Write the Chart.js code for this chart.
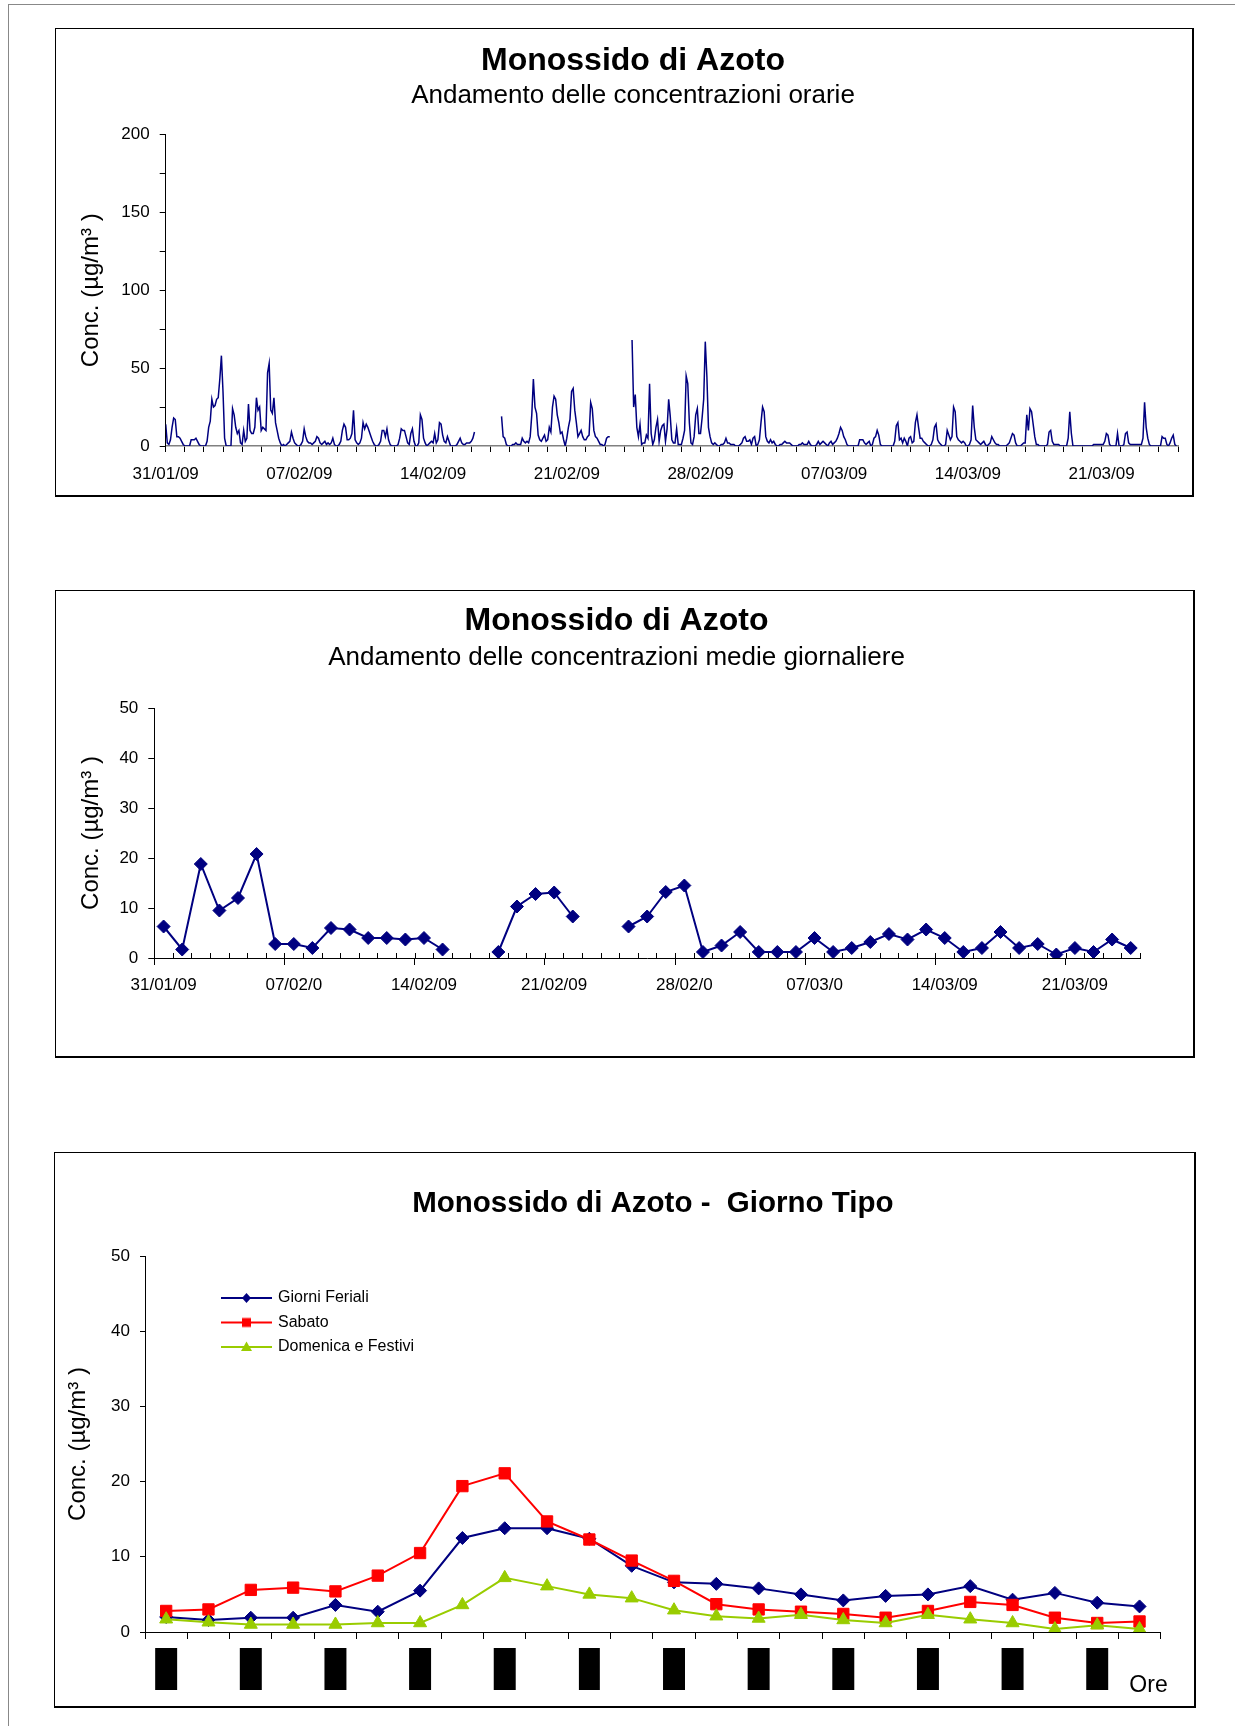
<!DOCTYPE html>
<html><head><meta charset="utf-8">
<script src="https://cdn.jsdelivr.net/npm/chart.js@4.4.1/dist/chart.umd.min.js"></script>
<style>
html,body{margin:0;padding:0;background:#fff;}
body{width:1235px;height:1726px;position:relative;overflow:hidden;}
.frameTop{position:absolute;left:8px;top:4px;width:1227px;height:0;border-top:1.5px solid #888;}
.frameLeft{position:absolute;left:8px;top:4px;width:0;height:1722px;border-left:1.5px solid #888;}
.box{position:absolute;border:1px solid #000;border-right-width:2px;border-bottom-width:2px;box-sizing:border-box;pointer-events:none;}
canvas{position:absolute;}
</style></head><body>
<div class="frameTop"></div><div class="frameLeft"></div>
<canvas id="c1" width="1139" height="469" style="left:55px;top:28px;"></canvas>
<canvas id="c2" width="1140" height="468" style="left:55px;top:590px;"></canvas>
<canvas id="c3" width="1142" height="556" style="left:54px;top:1152px;"></canvas>
<div class="box" style="left:55px;top:28px;width:1139px;height:469px;"></div>
<div class="box" style="left:55px;top:590px;width:1140px;height:468px;"></div>
<div class="box" style="left:54px;top:1152px;width:1142px;height:556px;"></div>
<script>
// ---------- DATA ----------
// Chart 1: hourly NO (one row per day, values every 2 hours, µg/m³), 31/01/09 .. 24/03/09
const hourStep = 2;
const noOrario = [
 [14,2,1,4,12,18,17,6,6,5,3,1],
 [0,0,0,0,4,4,4,5,3,1,0,0],
 [0,0,3,12,16,30,25,26,30,31,43,58],
 [35,5,0,0,0,0,24,20,12,8,10,2],
 [1,10,3,5,27,10,8,8,12,31,23,25],
 [10,12,11,10,47,53,23,21,31,15,10,5],
 [2,0,1,0,1,2,3,9,5,2,1,0],
 [0,1,3,11,6,3,2,2,1,2,3,6],
 [5,2,1,2,3,1,2,1,2,5,1,0],
 [0,1,3,10,14,12,4,4,5,8,23,4],
 [2,1,2,5,15,11,14,12,9,6,3,1],
 [0,0,1,3,10,10,6,11,4,1,0,0],
 [0,0,1,5,11,10,10,6,2,1,8,11],
 [3,0,0,2,20,17,5,2,0,1,2,3],
 [2,8,2,4,15,14,7,3,2,6,3,0],
 [0,0,0,1,3,5,2,1,1,2,2,2],
 [3,5,9,null,null,null,null,null,null,null,null,null],
 [null,null,null,null,null,null,null,19,6,5,1,0],
 [0,0,1,1,2,1,1,1,5,3,2,3],
 [2,6,20,43,25,21,7,4,3,5,7,3],
 [4,12,9,25,32,30,20,15,8,9,4,0],
 [5,12,17,35,37,23,15,6,8,10,6,4],
 [4,6,7,28,24,10,6,5,3,1,1,0],
 [1,5,6,6,null,null,null,null,null,null,null,null],
 [null,null,null,null,null,68,25,33,12,6,14,1],
 [2,2,7,5,40,8,1,4,12,17,3,10],
 [13,14,3,11,30,19,4,2,2,11,1,1],
 [1,5,10,45,40,15,2,1,6,20,24,8],
 [8,18,30,67,45,12,6,2,1,2,1,0],
 [0,1,1,2,5,2,2,1,1,1,0,0],
 [0,1,2,5,6,3,3,4,1,5,6,0],
 [1,4,15,25,22,6,3,2,4,2,3,1],
 [0,0,1,1,2,3,2,2,2,1,0,0],
 [0,0,1,1,2,1,1,1,3,1,0,0],
 [0,1,3,1,2,3,2,1,0,2,3,1],
 [2,3,5,8,12,10,6,4,1,0,0,0],
 [0,0,0,0,4,4,4,2,1,2,3,0],
 [1,5,6,10,7,1,0,0,0,0,0,0],
 [0,0,3,13,15,4,5,2,5,3,0,5],
 [6,2,3,15,20,12,5,5,3,2,1,0],
 [0,1,4,12,14,4,2,1,0,0,1,10],
 [7,4,6,25,22,6,4,3,2,3,2,0],
 [0,1,4,26,12,4,3,2,1,2,3,1],
 [0,1,2,6,4,2,1,1,0,0,0,0],
 [0,1,2,5,8,7,2,0,0,0,1,2],
 [2,20,10,24,22,14,6,1,1,0,0,0],
 [0,0,1,9,10,3,1,1,1,1,0,0],
 [0,0,0,5,22,8,0,0,0,0,0,0],
 [0,0,0,0,0,0,0,1,1,1,1,1],
 [1,1,3,8,7,1,0,0,0,0,8,0],
 [0,0,1,8,9,2,1,1,1,1,1,1],
 [1,1,5,28,12,5,1,0,0,0,0,0],
 [0,0,6,5,5,1,0,2,5,7,1,0]
];
const weekLabels1 = ['31/01/09','07/02/09','14/02/09','21/02/09','28/02/09','07/03/09','14/03/09','21/03/09'];

// Chart 2: daily means
const dailyDates = ['31/01/09','01/02/09','02/02/09','03/02/09','04/02/09','05/02/09','06/02/09','07/02/09','08/02/09','09/02/09',
 '10/02/09','11/02/09','12/02/09','13/02/09','14/02/09','15/02/09','16/02/09','17/02/09','18/02/09','19/02/09',
 '20/02/09','21/02/09','22/02/09','23/02/09','24/02/09','25/02/09','26/02/09','27/02/09','28/02/09','01/03/09',
 '02/03/09','03/03/09','04/03/09','05/03/09','06/03/09','07/03/09','08/03/09','09/03/09','10/03/09','11/03/09',
 '12/03/09','13/03/09','14/03/09','15/03/09','16/03/09','17/03/09','18/03/09','19/03/09','20/03/09','21/03/09',
 '22/03/09','23/03/09','24/03/09'];
const dailyNO = [6.3,1.7,18.8,9.5,12.0,20.8,2.8,2.8,2.0,6.0,5.7,4.0,4.0,3.7,4.0,1.7,null,null,1.2,10.3,
 12.8,13.1,8.3,null,null,6.3,8.3,13.2,14.5,1.2,2.5,5.2,1.2,1.2,1.2,4.0,1.2,2.0,3.2,4.8,
 3.7,5.7,4.0,1.2,2.0,5.2,2.0,2.8,0.7,2.0,1.2,3.7,2.0];
const weekLabels2 = ['31/01/09','07/02/0','14/02/09','21/02/09','28/02/0','07/03/0','14/03/09','21/03/09'];

// Chart 3: typical day
const oreLabels = ['01','02','03','04','05','06','07','08','09','10','11','12','13','14','15','16','17','18','19','20','21','22','23','24'];
const feriali  = [2.0,1.6,1.9,1.9,3.6,2.7,5.5,12.5,13.8,13.8,12.4,8.8,6.6,6.4,5.8,5.0,4.2,4.8,5.0,6.1,4.3,5.2,3.9,3.4];
const sabato   = [2.8,3.0,5.6,5.9,5.4,7.5,10.5,19.4,21.1,14.7,12.3,9.5,6.8,3.7,3.0,2.7,2.4,1.9,2.8,4.0,3.6,1.9,1.2,1.4];
const domenica = [1.7,1.3,1.0,1.0,1.0,1.2,1.2,3.6,7.2,6.1,5.0,4.5,2.9,2.1,1.8,2.3,1.6,1.2,2.3,1.7,1.2,0.4,0.9,0.4];

// ---------- SETUP ----------
const FONT = '"Liberation Sans", Arial, Helvetica, sans-serif';
Chart.defaults.font.family = FONT;
Chart.defaults.color = '#000';
const NAVY = '#000080', RED = '#FF0000', GREEN = '#99CC00';
const yTitle = 'Conc. (µg/m³ )';

const hourlyPoints = [];
noOrario.forEach((day, d) => day.forEach((v, k) => hourlyPoints.push({x: d + k * hourStep / 24, y: v})));

// Chart 1
new Chart(document.getElementById('c1'), {
  type: 'line',
  data: {datasets: [{data: hourlyPoints, borderColor: NAVY, borderWidth: 1.5, pointRadius: 0, tension: 0, spanGaps: false, fill: false}]},
  options: {
    responsive: false, animation: false, events: [],
    layout: {padding: {left: 33, right: 16, top: 0, bottom: 0}},
    plugins: {
      legend: {display: false}, tooltip: {enabled: false},
      title: {display: true, text: 'Monossido di Azoto', color: '#000', font: {size: 32, weight: 'bold'}, padding: {top: 13.7, bottom: 0}},
      subtitle: {display: true, text: 'Andamento delle concentrazioni orarie', color: '#000', font: {size: 26}, padding: {top: 0, bottom: 23.2}}
    },
    scales: {
      x: {type: 'linear', min: 0, max: 53,
        afterFit: s => { s.height = 469 - 418; },
        ticks: {stepSize: 1, maxTicksLimit: 200, autoSkip: false, maxRotation: 0, minRotation: 0, padding: 12.5, font: {size: 17},
          callback: v => (v % 7 === 0 ? weekLabels1[v / 7] : '')},
        grid: {drawOnChartArea: false, tickLength: 6, color: '#000'},
        border: {color: '#808080', width: 1.5}},
      y: {min: 0, max: 200,
        afterFit: s => { s.width = 110.7 - 33; },
        ticks: {stepSize: 25, padding: 10, font: {size: 17}, callback: v => (v % 50 === 0 ? v : '')},
        grid: {drawOnChartArea: false, tickLength: 6, color: '#000'},
        border: {color: '#000'},
        title: {display: true, text: yTitle, font: {size: 24}, padding: {top: -11.4, bottom: 0}}}
    }
  }
});

// Chart 2
const minorTicks = {
  id: 'minorTicks',
  afterDraw(chart) {
    const s = chart.scales.x, ctx = chart.ctx, n = chart.data.labels.length, w = (s.right - s.left) / n;
    ctx.save(); ctx.strokeStyle = '#000'; ctx.lineWidth = 1; ctx.beginPath();
    for (let i = 0; i <= n; i++) { const x = Math.round(s.left + i * w) + 0.5; ctx.moveTo(x, s.top); ctx.lineTo(x, s.top - 5); }
    ctx.stroke(); ctx.restore();
  }
};
new Chart(document.getElementById('c2'), {
  type: 'line',
  data: {labels: dailyDates, datasets: [{data: dailyNO, borderColor: NAVY, backgroundColor: NAVY, borderWidth: 2,
    pointStyle: 'rectRot', pointRadius: 6.5, pointBorderWidth: 1, tension: 0, spanGaps: false}]},
  options: {
    responsive: false, animation: false, events: [],
    layout: {padding: {left: 38, right: 55, top: 0, bottom: 0}},
    plugins: {
      legend: {display: false}, tooltip: {enabled: false},
      title: {display: true, text: 'Monossido di Azoto', color: '#000', font: {size: 32, weight: 'bold'}, padding: {top: 12, bottom: 0}},
      subtitle: {display: true, text: 'Andamento delle concentrazioni medie giornaliere', color: '#000', font: {size: 26}, padding: {top: 1.9, bottom: 34.5}}
    },
    scales: {
      x: {type: 'category', offset: true,
        afterFit: s => { s.height = 468 - 368; },
        ticks: {autoSkip: false, maxRotation: 0, minRotation: 0, padding: 10, font: {size: 17},
          callback: (v, i) => (i % 7 === 0 ? weekLabels2[i / 7] : '')},
        grid: {offset: true, drawOnChartArea: false, tickLength: 7, tickColor: c => (c.index % 7 === 0 ? '#000' : 'rgba(0,0,0,0)')},
        border: {color: '#000'}},
      y: {min: 0, max: 50,
        afterFit: s => { s.width = 99.3 - 38; },
        ticks: {stepSize: 10, padding: 10, font: {size: 17}},
        grid: {drawOnChartArea: false, tickLength: 6, color: '#000'},
        border: {color: '#000'},
        title: {display: true, text: yTitle, font: {size: 24}, padding: {top: -16.4, bottom: 0}}}
    }
  },
  plugins: [minorTicks]
});

// Chart 3
function legendIcon(color, style) {
  const c = document.createElement('canvas'); c.width = 51; c.height = 16;
  const g = c.getContext('2d');
  g.strokeStyle = color; g.fillStyle = color; g.lineWidth = 2;
  g.beginPath(); g.moveTo(0, 8); g.lineTo(51, 8); g.stroke();
  g.beginPath();
  const cx = 25.5, cy = 8;
  if (style === 'rectRot') { g.moveTo(cx, cy - 5); g.lineTo(cx + 4.5, cy); g.lineTo(cx, cy + 5); g.lineTo(cx - 4.5, cy); }
  else if (style === 'rect') { g.rect(cx - 4.5, cy - 4.5, 9, 9); }
  else { g.moveTo(cx, cy - 5.5); g.lineTo(cx + 5.5, cy + 4); g.lineTo(cx - 5.5, cy + 4); }
  g.closePath(); g.fill();
  return c;
}
const legendPos = {
  id: 'legendPos',
  afterLayout(chart) {
    const l = chart.legend, a = chart.chartArea;
    if (!l) return;
    l.left = a.left + 69.5; l.top = a.top + 25.5; l.right = a.right; l.bottom = a.bottom;
    l.width = l.right - l.left; l.height = l.bottom - l.top;
  }
};
const oreLabel = {
  id: 'oreLabel',
  afterDraw(chart) {
    const s = chart.scales.x, ctx = chart.ctx;
    ctx.save(); ctx.font = '23px ' + FONT; ctx.fillStyle = '#000'; ctx.textAlign = 'right'; ctx.textBaseline = 'alphabetic';
    ctx.fillText('Ore', s.right + 7, s.top + 60); ctx.restore();
  }
};
new Chart(document.getElementById('c3'), {
  type: 'line',
  data: {labels: oreLabels, datasets: [
    {label: 'Giorni Feriali', data: feriali, borderColor: NAVY, backgroundColor: NAVY, borderWidth: 2, pointStyle: 'rectRot', pointRadius: 6.5, pointBorderWidth: 1, tension: 0, order: 3},
    {label: 'Sabato', data: sabato, borderColor: RED, backgroundColor: RED, borderWidth: 2, pointStyle: 'rect', pointRadius: 8, pointBorderWidth: 1, tension: 0, order: 2},
    {label: 'Domenica e Festivi', data: domenica, borderColor: GREEN, backgroundColor: GREEN, borderWidth: 2, pointStyle: 'triangle', pointRadius: 7.5, pointBorderWidth: 1, tension: 0, order: 1}
  ]},
  options: {
    responsive: false, animation: false, events: [],
    layout: {padding: {left: 0, right: 35.3, top: 0, bottom: 0}},
    plugins: {
      tooltip: {enabled: false},
      title: {display: true, fullSize: false, text: 'Monossido di Azoto -  Giorno Tipo', color: '#000', font: {size: 29.5, weight: 'bold'}, padding: {top: 34.2, bottom: 34.4}},
      legend: {display: true, position: 'chartArea', align: 'start',
        labels: {usePointStyle: true, pointStyleWidth: 47, padding: 8.5, font: {size: 16}, color: '#000',
          generateLabels: chart => chart.data.datasets.map((ds, i) => ({
            text: ds.label, pointStyle: legendIcon(ds.borderColor, ds.pointStyle), fillStyle: ds.borderColor,
            strokeStyle: ds.borderColor, lineWidth: 0, hidden: false, datasetIndex: i, fontColor: '#000'}))}}
    },
    scales: {
      x: {type: 'category', offset: true,
        afterFit: s => { s.height = 556 - 480; },
        ticks: {autoSkip: false, maxRotation: 0, minRotation: 0, padding: 21.6, font: {size: 14}, color: '#000',
          callback: (v, i) => (i % 2 === 0 ? oreLabels[i] : ''),
          showLabelBackdrop: c => c.index % 2 === 0, backdropColor: '#000', backdropPadding: {x: 3.2, y: 12.6}},
        grid: {offset: true, drawOnChartArea: false, tickLength: 7, color: '#000'},
        border: {color: '#000'}},
      y: {min: 0, max: 50,
        afterFit: s => { s.width = 91; },
        ticks: {stepSize: 10, padding: 10, font: {size: 17}},
        grid: {drawOnChartArea: false, tickLength: 5, color: '#000'},
        border: {color: '#000'},
        title: {display: true, text: yTitle, font: {size: 24}, padding: {top: 10.1, bottom: 0}}}
    }
  },
  plugins: [legendPos, oreLabel]
});
</script>
</body></html>
